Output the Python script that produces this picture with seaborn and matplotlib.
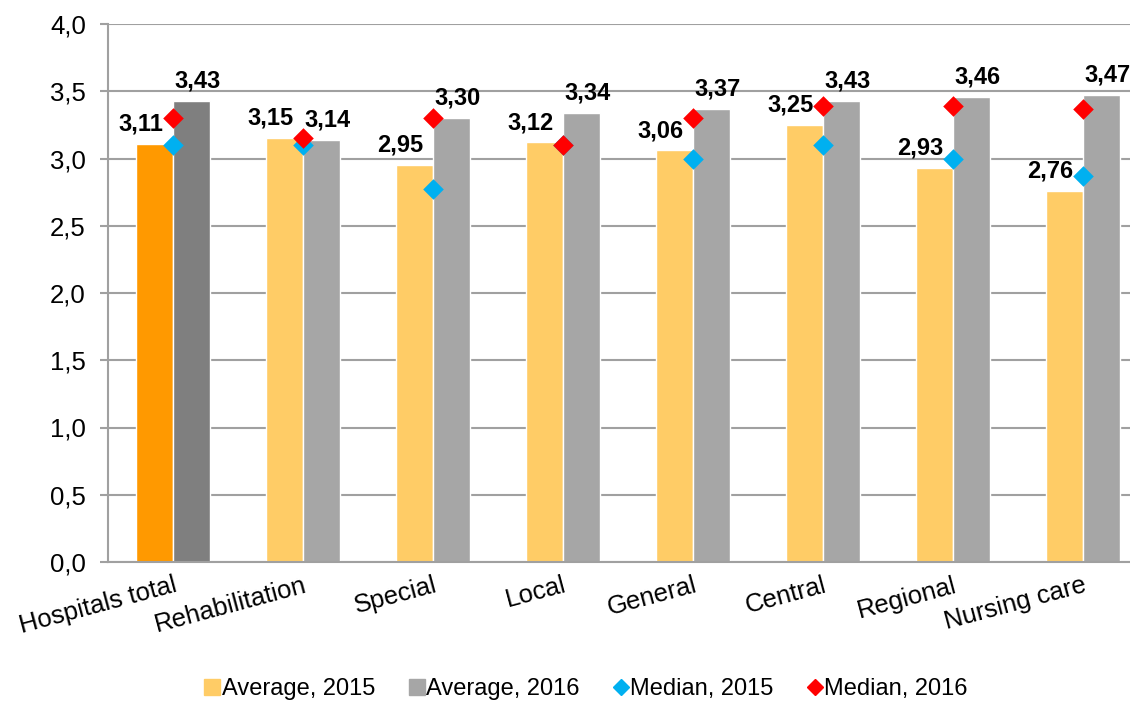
import matplotlib
matplotlib.use("Agg")
import matplotlib.pyplot as plt
from matplotlib.lines import Line2D
from matplotlib.ticker import FuncFormatter
import seaborn as sns
import pandas as pd

sns.set_theme(style="white")
plt.rcParams["font.family"] = ["Liberation Sans", "DejaVu Sans"]
plt.rcParams["text.color"] = "black"
plt.rcParams["xtick.color"] = "black"
plt.rcParams["ytick.color"] = "black"

categories = ["Hospitals total", "Rehabilitation", "Special", "Local",
              "General", "Central", "Regional", "Nursing care"]
avg_2015 = [3.11, 3.15, 2.95, 3.12, 3.06, 3.25, 2.93, 2.76]
avg_2016 = [3.43, 3.14, 3.30, 3.34, 3.37, 3.43, 3.46, 3.47]
med_2015 = [3.10, 3.10, 2.77, 3.10, 3.00, 3.10, 3.00, 2.87]
med_2016 = [3.30, 3.15, 3.30, 3.10, 3.30, 3.39, 3.39, 3.37]
y_ticks = [0.0, 0.5, 1.0, 1.5, 2.0, 2.5, 3.0, 3.5, 4.0]

LIGHT_ORANGE = "#FFCC66"
LIGHT_GRAY = "#A6A6A6"
ORANGE = "#FF9900"
DARK_GRAY = "#7F7F7F"
BLUE = "#00B0F0"
RED = "#FF0000"
GRID = "#A0A0A0"

bars = pd.DataFrame({
    "category": categories * 2,
    "value": avg_2015 + avg_2016,
    "series": ["Average, 2015"] * len(categories) + ["Average, 2016"] * len(categories),
})

fig = plt.figure(figsize=(11.3, 7.01), dpi=100)
ax = fig.add_axes([108 / 1130, 1 - 562 / 701, 1040 / 1130, 538 / 701])

sns.barplot(data=bars, x="category", y="value", hue="series",
            palette=[LIGHT_ORANGE, LIGHT_GRAY], width=0.57, gap=0,
            saturation=1, legend=False, ax=ax, zorder=2)

# first category highlighted in stronger colours
n = len(categories)
ax.patches[0].set_facecolor(ORANGE)
ax.patches[n].set_facecolor(DARK_GRAY)

x = list(range(n))
ax.scatter(x, med_2015, marker="D", s=110, color=BLUE, zorder=4, linewidths=0)
ax.scatter(x, med_2016, marker="D", s=110, color=RED, zorder=5, linewidths=0)

fmt = lambda v: f"{v:.2f}".replace(".", ",")
for i, p in enumerate(ax.patches[:2 * n]):
    h = p.get_height()
    if i < n:
        ax.annotate(fmt(h), (p.get_x() + p.get_width() * 0.75, h),
                    xytext=(0, 6), textcoords="offset points",
                    ha="right", va="bottom", fontsize=17, fontweight="bold", zorder=6)
    else:
        ax.annotate(fmt(h), (p.get_x() + p.get_width() * 0.65, h),
                    xytext=(0, 6), textcoords="offset points",
                    ha="center", va="bottom", fontsize=17, fontweight="bold", zorder=6)

ax.set_ylim(0, 4.0)
ax.set_xlim(-0.5, n - 0.5)
ax.set_yticks(y_ticks)
ax.yaxis.set_major_formatter(FuncFormatter(lambda v, _: f"{v:.1f}".replace(".", ",")))
ax.grid(axis="y", color=GRID, linewidth=1.5, zorder=0)
ax.set_axisbelow(True)

ax.set_xticks(x)
ax.set_xticklabels(categories, rotation=15, ha="right", rotation_mode="anchor",
                   fontsize=18.5)
ax.set_xticks([i + 0.5 for i in range(-1, n)], minor=True)
ax.tick_params(axis="x", which="major", length=0, pad=8)
ax.tick_params(axis="x", which="minor", length=6, width=1.5, color=GRID, direction="out")
ax.tick_params(axis="y", labelsize=18.5, length=6, width=1.5, color=GRID,
               labelcolor="black", direction="out", left=True, pad=10)
ax.set_xlabel("")
ax.set_ylabel("")

for side in ["top", "right"]:
    ax.spines[side].set_visible(False)
for side in ["left", "bottom"]:
    ax.spines[side].set_color(GRID)
    ax.spines[side].set_linewidth(1.5)

handles = [
    Line2D([], [], marker="s", linestyle="", color=LIGHT_ORANGE, markersize=11),
    Line2D([], [], marker="s", linestyle="", color=LIGHT_GRAY, markersize=11),
    Line2D([], [], marker="D", linestyle="", color=BLUE, markersize=8),
    Line2D([], [], marker="D", linestyle="", color=RED, markersize=8),
]
labels = ["Average, 2015", "Average, 2016", "Median, 2015", "Median, 2016"]
fig.legend(handles, labels, loc="center", bbox_to_anchor=(586 / 1130, 1 - 689 / 701),
           ncol=4, frameon=False, fontsize=17, handletextpad=0.05,
           columnspacing=1.4, handlelength=0.7)

fig.savefig("out.png", dpi=100)
